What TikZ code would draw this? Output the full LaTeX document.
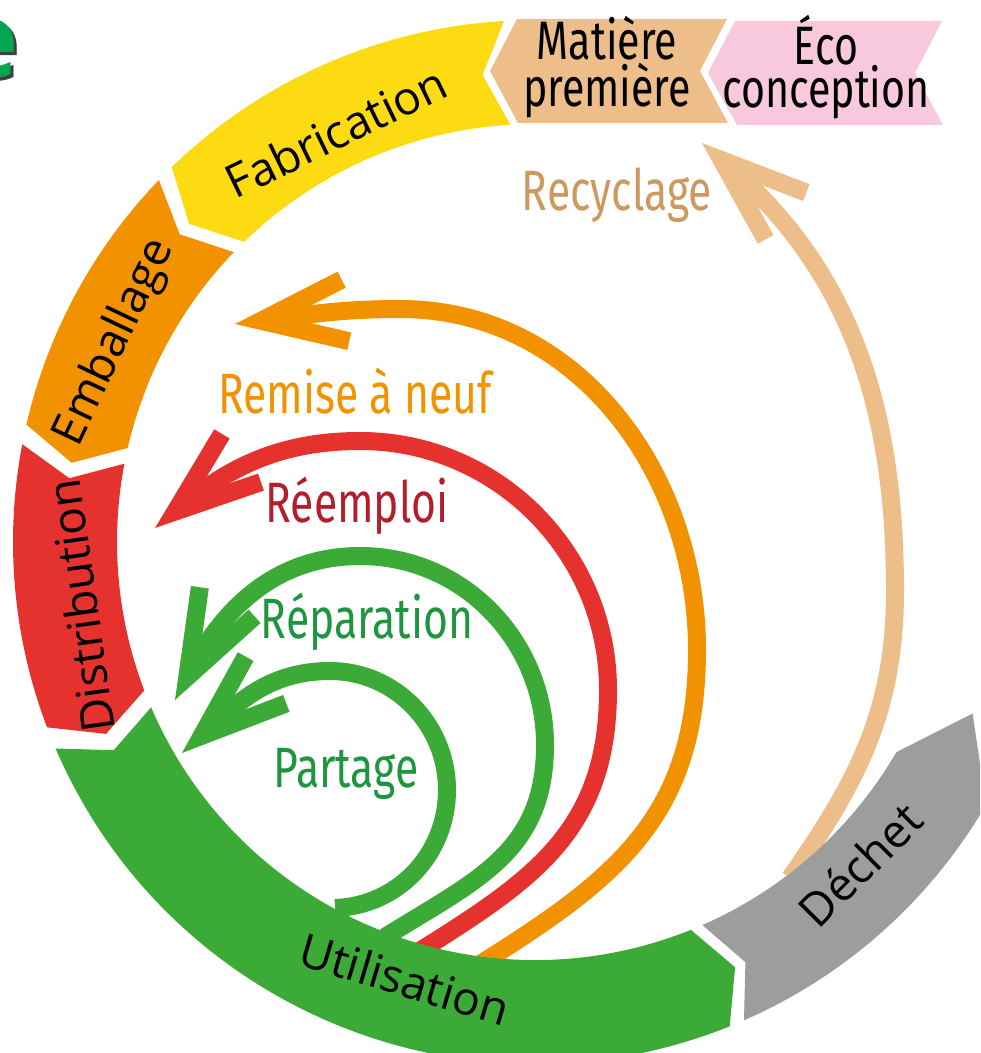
\documentclass[tikz,border=0pt]{standalone}
\usepackage{fontspec}
\setmainfont{Open Sans}
\newfontfamily\condfont[FakeStretch=0.75]{Fira Sans}
\newfontfamily\bannerfont[FakeStretch=0.76]{Fira Sans}
\usetikzlibrary{calc,arrows.meta}

\definecolor{fabjaune}{HTML}{FDDB13}
\definecolor{embalorange}{HTML}{F29200}
\definecolor{distrouge}{HTML}{E5322E}
\definecolor{utilvert}{HTML}{3CAA36}
\definecolor{dechetgris}{HTML}{9D9D9C}
\definecolor{matierebeige}{HTML}{EDBE8A}
\definecolor{ecorose}{HTML}{F8C8DD}
\definecolor{recyclagetexte}{HTML}{CD9A5E}
\definecolor{reemploitexte}{HTML}{B31E2C}
\definecolor{vertfonce}{HTML}{1E9640}
\definecolor{titrevert}{HTML}{00A650}

\newcommand{\ringpiece}[4]{%
	\fill[#1] ($(C)+(#2:522)$) arc[start angle=#2, end angle=#3, radius=522]
		-- ($(C)+(#3+#4:470)$) -- ($(C)+(#3:418)$)
		arc[start angle=#3, end angle=#2, radius=418]
		-- ($(C)+(#2+3:470)$) -- cycle;}

\begin{document}
\begin{tikzpicture}[x=0.1mm, y=0.1mm,
	seglabel/.style={font=\fontsize{13.1pt}{15pt}\selectfont, inner sep=0pt},
	bannerlabel/.style={font=\bannerfont\fontsize{15.4pt}{12.2pt}\selectfont, align=center, inner sep=0pt},
	backlabel/.style={font=\condfont\fontsize{16.2pt}{18pt}\selectfont, anchor=base, inner sep=0pt},
	backarrow/.style={line width=1.8mm, -{Straight Barb[sharp, length=8.5mm, width=6.2mm]}}]
		\useasboundingbox (0,0) rectangle (980,-1053);
		\clip (0,0) rectangle (980,-1053);
		\coordinate (C) at (535,-542);
		\node[text=black!75, font=\bfseries\fontsize{30pt}{30pt}\selectfont, inner sep=0pt] at (-9,-52) {e};
		\node[text=titrevert, font=\bfseries\fontsize{30pt}{30pt}\selectfont, inner sep=0pt] (titre) at (-12,-49) {e};
		\coordinate (recyclagedebut) at (790,-878);
		\coordinate (recyclagefin) at (702,-143);
		\coordinate (remisedebut) at (477,-966);
		\coordinate (remisefin) at (235,-324);
		\coordinate (reemploidebut) at (410,-957);
		\coordinate (reemploifin) at (155,-528);
		\coordinate (reparationdebut) at (385,-937);
		\coordinate (reparationfin) at (175,-700);
		\coordinate (partagedebut) at (335,-908);
		\coordinate (partagefin) at (182,-753);
		\draw[backarrow, matierebeige] (recyclagedebut) to[out=55,in=-90] (895,-590) to[out=90,in=-41] (recyclagefin);
		\draw[backarrow, embalorange] (remisedebut) to[out=32,in=-90,looseness=1.1] (697,-650) to[out=90,in=0] (400,-309) to[out=180,in=7] (remisefin);
		\draw[backarrow, distrouge] (reemploidebut) to[out=32,in=-90,looseness=1.1] (608,-690) to[out=90,in=0] (360,-441) to[out=180,in=39] (reemploifin);
		\draw[backarrow, utilvert] (reparationdebut) to[out=32,in=-90,looseness=1.1] (545,-745) to[out=90,in=0] (360,-556) to[out=180,in=62] (reparationfin);
		\draw[backarrow, utilvert] (partagedebut) to[out=2,in=-90] (447,-790) to[out=90,in=0] (330,-671) to[out=180,in=41] (partagefin);
		\ringpiece{fabjaune}{93.4}{134.1}{3.3}
		\ringpiece{embalorange}{136.1}{167}{3.3}
		\ringpiece{distrouge}{169.2}{200.8}{3.3}
		\ringpiece{utilvert}{203.3}{291.9}{3.3}
		\ringpiece{dechetgris}{293.6}{329.8}{8.8}
		\fill[matierebeige] (490,-71) -- (517,-19) -- (727,-19) -- (700,-71) -- (728,-123) -- (518,-123) -- cycle;
		\fill[ecorose] (708,-73) -- (735,-21) -- (942,-21) -- (915,-73) -- (943,-125) -- (737,-125) -- cycle;
		\node[bannerlabel] (matiere) at (607,-67) {Matière\\première};
		\node[bannerlabel] (eco) at (826,-67) {Éco\\conception};
		\node[seglabel, rotate=25.9] (fabrication) at ($(C)+(115.9:456)$) {Fabrication};
		\node[seglabel, rotate=64.6] (emballage) at ($(C)+(154.6:465)$) {Emballage};
		\node[seglabel, rotate=98] (distribution) at ($(C)+(188:459)$) {Distribution};
		\node[seglabel, rotate=-16.6] (utilisation) at ($(C)+(253.4:456)$) {Utilisation};
		\node[seglabel, rotate=45.2] (dechet) at ($(C)+(315.2:458)$) {Déchet};
		\node[backlabel, text=recyclagetexte] (recyclage) at (617,-210) {Recyclage};
		\node[backlabel, text=embalorange] (remise) at (355,-413) {Remise à neuf};
		\node[backlabel, text=reemploitexte] (reemploi) at (357,-522) {Réemploi};
		\node[backlabel, text=vertfonce] (reparation) at (367,-638) {Réparation};
		\node[backlabel, text=vertfonce] (partage) at (346,-787) {Partage};
\end{tikzpicture}
\end{document}
